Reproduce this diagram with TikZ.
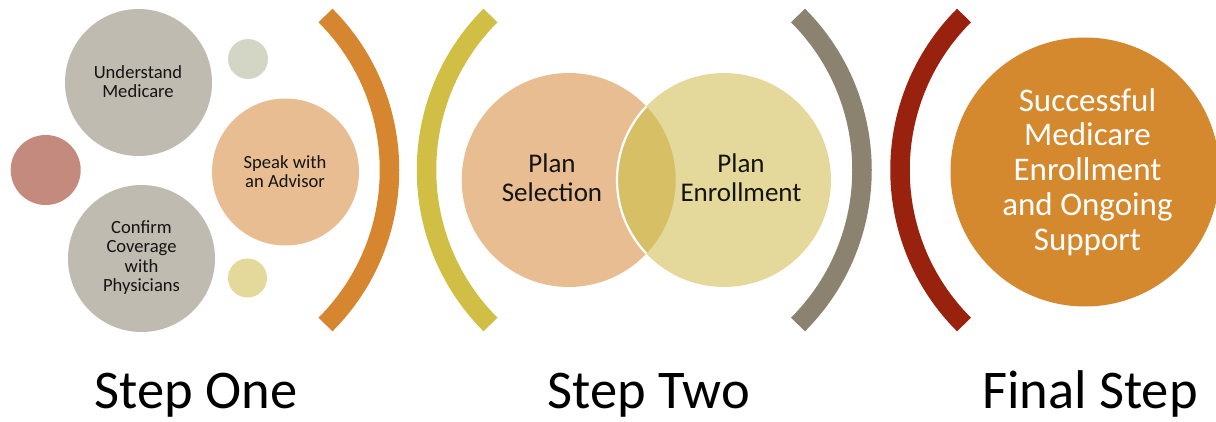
\documentclass[tikz,border=0pt]{standalone}
\usepackage{fontspec}
\setmainfont{Carlito}
\definecolor{cgray}{HTML}{BFBBB0}
\definecolor{cred}{HTML}{C48A7E}
\definecolor{cpeach}{HTML}{E8BD92}
\definecolor{csage}{HTML}{D3D6C5}
\definecolor{cyel}{HTML}{E4D99A}
\definecolor{arcorange}{HTML}{D6862F}
\definecolor{arcyellow}{HTML}{D0BE45}
\definecolor{arcgray}{HTML}{8B8370}
\definecolor{arcred}{HTML}{98220E}
\definecolor{coverlap}{HTML}{D7BF66}
\definecolor{cbig}{HTML}{D5892F}
\definecolor{ctext}{HTML}{141414}
\begin{document}
\begin{tikzpicture}[x=1pt,y=1pt,
  disc/.style={circle,inner sep=0pt,draw=none},
  smalltxt/.style={align=center,text=ctext,font=\fontsize{18.6}{18.7}\selectfont},
  midtxt/.style={align=center,text=ctext,font=\fontsize{27}{29}\selectfont},
  bigtxt/.style={align=center,text=white,font=\fontsize{33}{34.7}\selectfont},
  steptxt/.style={anchor=base,text=black,font=\fontsize{54.5}{60}\selectfont},
  bracket/.style={line width=19.5pt,line cap=butt}]
\useasboundingbox (0,0) rectangle (1216,421);
\clip (0,0) rectangle (1216,421);
% Step one
\node[disc,fill=cgray,minimum size=147pt] (und) at (138.5,338.5) {};
\node[disc,fill=cred,minimum size=70pt] (red) at (45.7,251) {};
\node[disc,fill=cgray,minimum size=147pt] (conf) at (141.5,162.5) {};
\node[disc,fill=cpeach,minimum size=147pt] (speak) at (285.5,249) {};
\node[disc,fill=csage,minimum size=40pt] (sage) at (248,362) {};
\node[disc,fill=cyel,minimum size=39pt] (yel) at (247.5,143) {};
\node[smalltxt] (undt) at (138,339.3) {Understand\\Medicare};
\node[smalltxt] (speakt) at (285,249.3) {Speak with\\an Advisor};
\node[smalltxt,font=\fontsize{18.6}{19.4}\selectfont] (conft) at (141.5,163.4) {Confirm\\Coverage\\with\\Physicians};
\coordinate (c1) at (171,251);
\draw[bracket,arcorange] ([shift={(45:218.5)}]c1) arc[start angle=45,end angle=-45,radius=218.5];
% Step two
\coordinate (c2) at (645,251);
\coordinate (c3) at (643.5,251);
\draw[bracket,arcyellow] ([shift={(135:218.5)}]c2) arc[start angle=135,end angle=225,radius=218.5];
\draw[bracket,arcgray] ([shift={(45:218.5)}]c3) arc[start angle=45,end angle=-45,radius=218.5];
\node[disc,fill=cpeach,minimum size=214pt] (sel) at (568.7,241) {};
\node[disc,fill=cyel,minimum size=214pt] (enr) at (724,241) {};
\begin{scope}
  \clip (sel.center) circle[radius=107];
  \fill[coverlap] (enr.center) circle[radius=107];
  \draw[white,line width=2.2pt] (enr.center) circle[radius=107];
\end{scope}
\node[midtxt] (selt) at (552,243.5) {Plan\\Selection};
\node[midtxt] (enrt) at (741,243.5) {Plan\\Enrollment};
% Final step
\coordinate (c4) at (1118.5,251);
\draw[bracket,arcred] ([shift={(135:218.5)}]c4) arc[start angle=135,end angle=225,radius=218.5];
\node[disc,fill=cbig,minimum size=269pt] (big) at (1085,249) {};
\node[bigtxt] (bigt) at (1087.5,249.1) {Successful\\Medicare\\Enrollment\\and Ongoing\\Support};
% labels
\node[steptxt] (s1) at (196,12.5) {Step One};
\node[steptxt] (s2) at (649,12.5) {Step Two};
\node[steptxt] (s3) at (1090,12.5) {Final Step};
\end{tikzpicture}
\end{document}
